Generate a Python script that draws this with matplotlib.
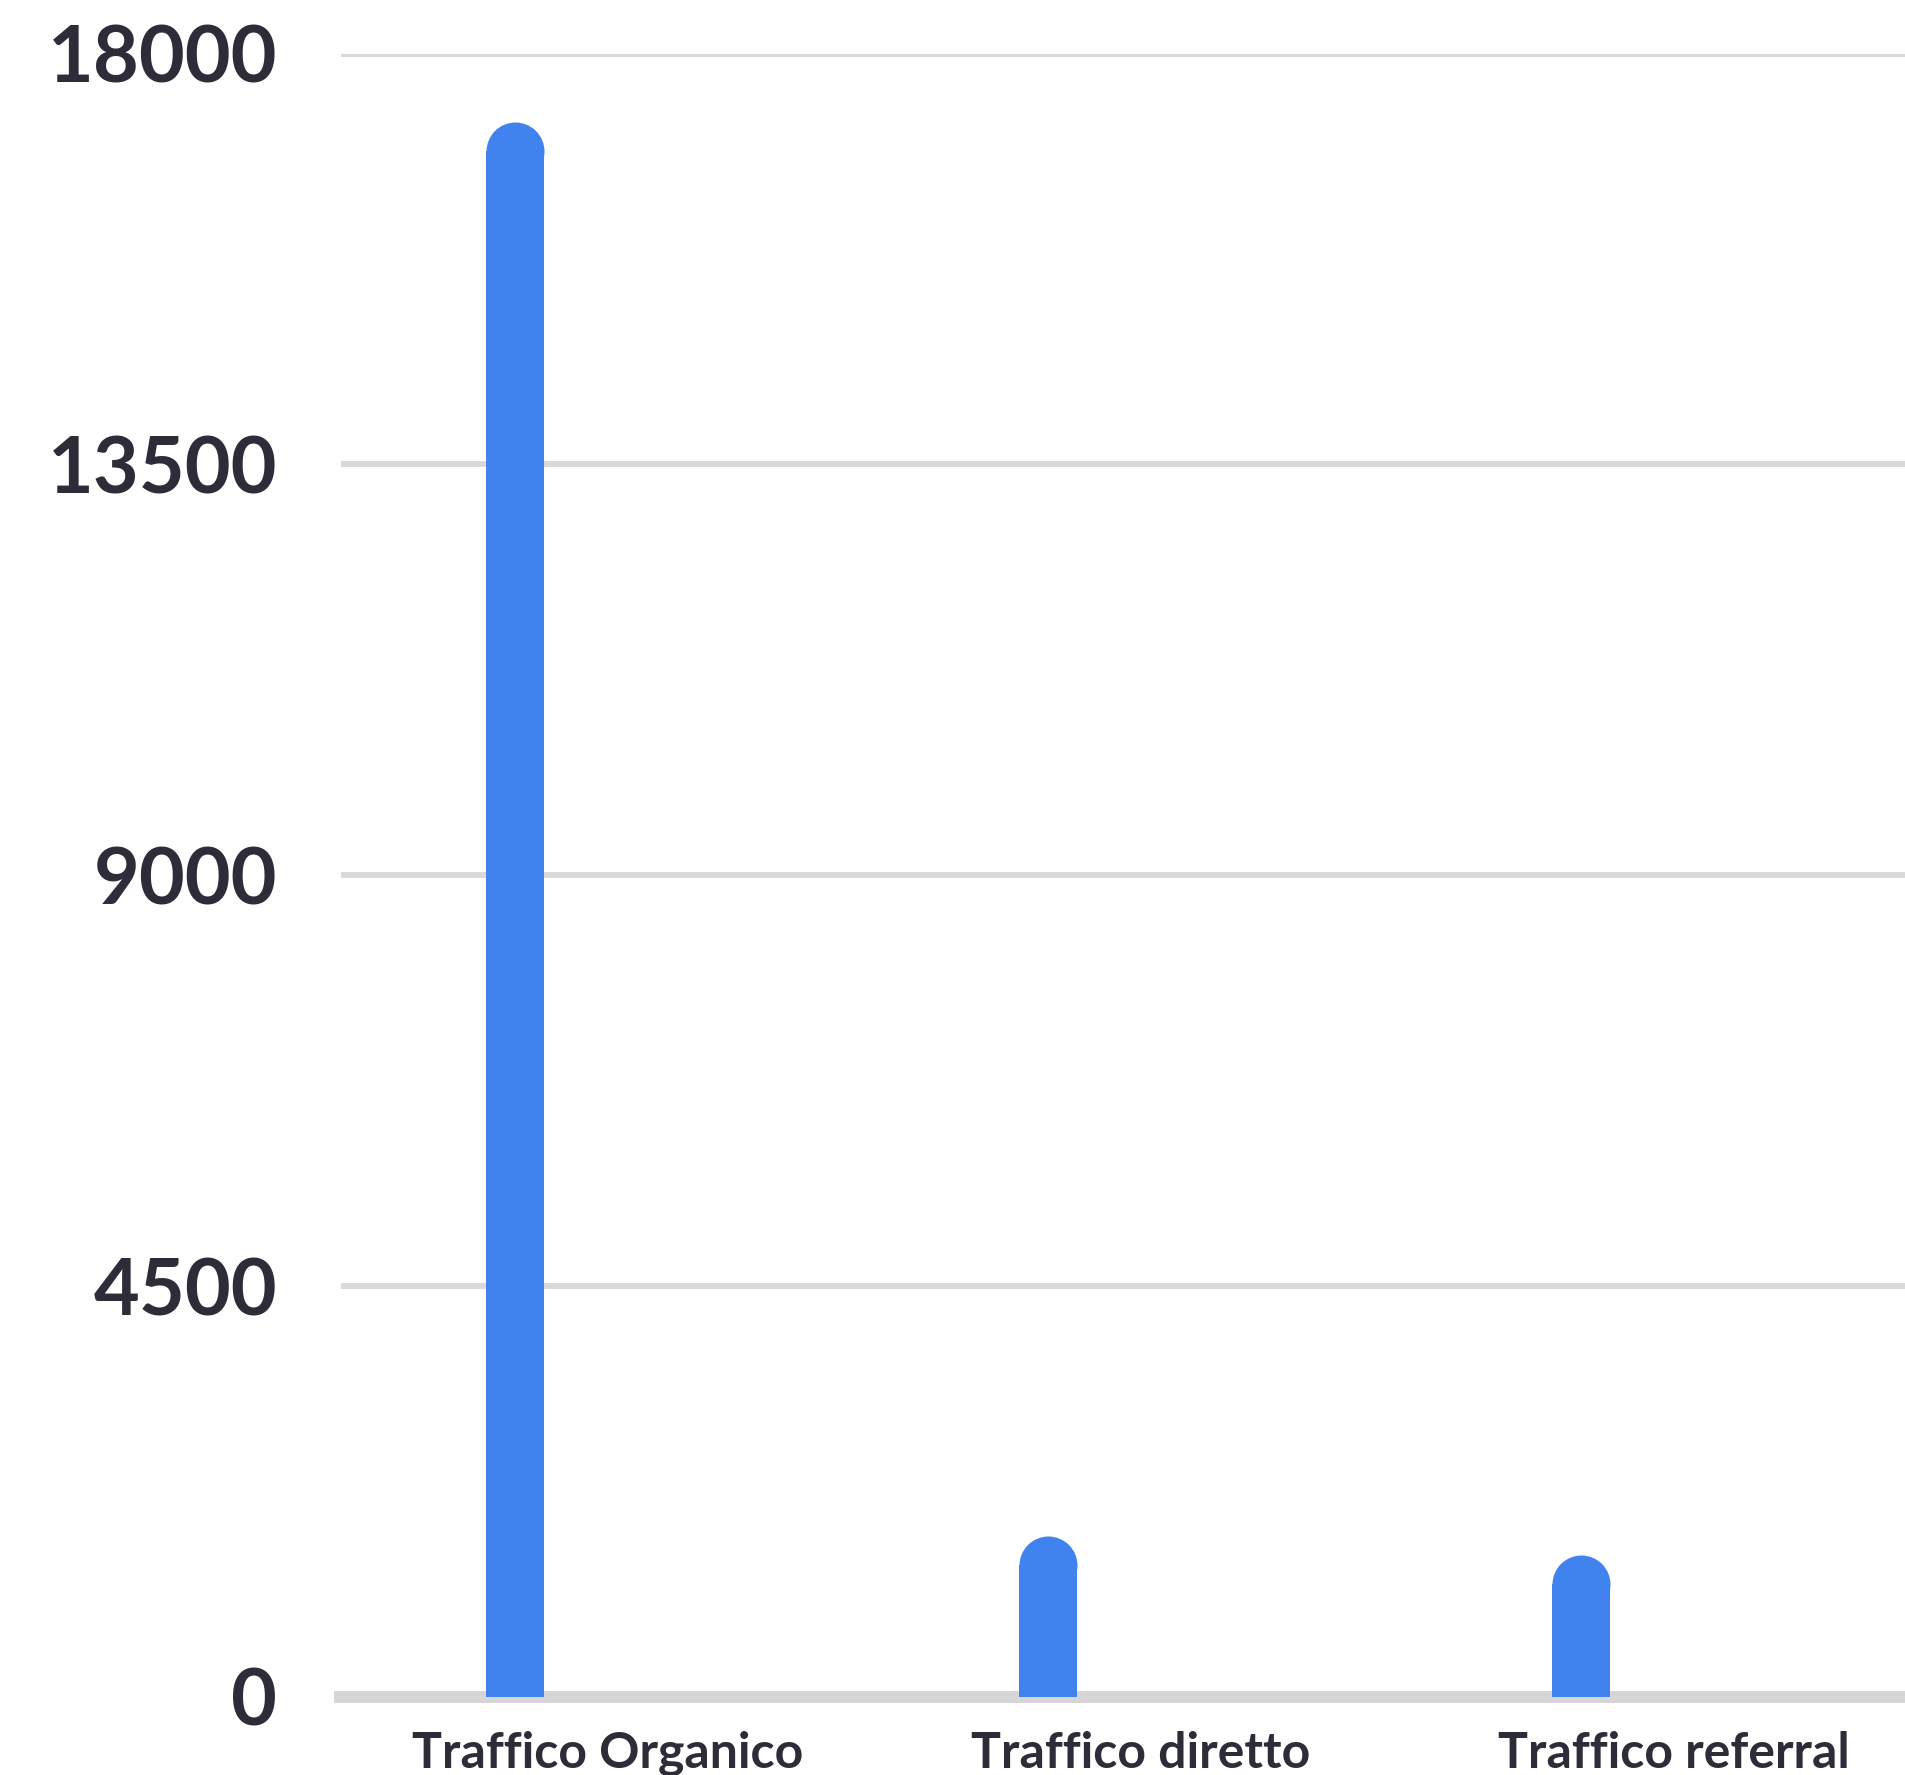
import matplotlib
matplotlib.use("Agg")
import matplotlib.pyplot as plt

# data
categories = ["Traffico Organico", "Traffico diretto", "Traffico referral"]
visits = [17250, 1760, 1550]
y_ticks = [0, 4500, 9000, 13500, 18000]

bar_color = "#4083EF"
text_color = "#2D2C38"
grid_color = "#D9D9D9"
base_color = "#D6D4D7"

W, H, dpi = 1905, 1775, 100
fig = plt.figure(figsize=(W / dpi, H / dpi), dpi=dpi)
# plot area: left at 341px, bottom (zero) at 1697px, 18000 at 53px; runs past right edge
ax_l, ax_b = 341 / W, (H - 1697) / H
ax_w, ax_h = 1599 / W, (1697 - 53.5) / H
ax = fig.add_axes([ax_l, ax_b, ax_w, ax_h])

ax.set_xlim(-0.5, 2.5)
ax.set_ylim(0, 18000)

bar_px = 58
bar_w = bar_px / 533
offset = -93 / 533
r_data = (bar_px / 2) * 18000 / (ax_h * H)
ms = bar_px * 72 / dpi

for i, v in enumerate(visits):
    x = i + offset
    ax.bar(x, v - r_data, width=bar_w, color=bar_color, zorder=3, linewidth=0)
    ax.plot([x], [v - r_data], marker="o", markersize=ms, color=bar_color,
            markeredgewidth=0, zorder=3)

for t in y_ticks[1:]:
    ax.axhline(t, color=grid_color, linewidth=4.3, zorder=1,
               solid_capstyle="butt")
ax.axhline(0, xmin=-7 / 1599, xmax=1, color=base_color, linewidth=8.6,
           zorder=2, clip_on=False, solid_capstyle="butt")

for s in ax.spines.values():
    s.set_visible(False)

ax.set_yticks(y_ticks)
ax.set_yticklabels([str(t) for t in y_ticks], fontsize=57, fontweight="bold",
                   family=["Lato", "DejaVu Sans"], color=text_color)
ax.tick_params(axis="y", length=0, pad=46)
ax.set_xticks([])

for i, c in enumerate(categories):
    ax.text(i, (1697 - 1768) / (ax_h * H), c, transform=ax.get_xaxis_transform(),
            ha="center", va="baseline", fontsize=36, fontweight="bold",
            family=["Lato", "DejaVu Sans"], color=text_color, clip_on=False)

fig.savefig("out.png", dpi=dpi)
